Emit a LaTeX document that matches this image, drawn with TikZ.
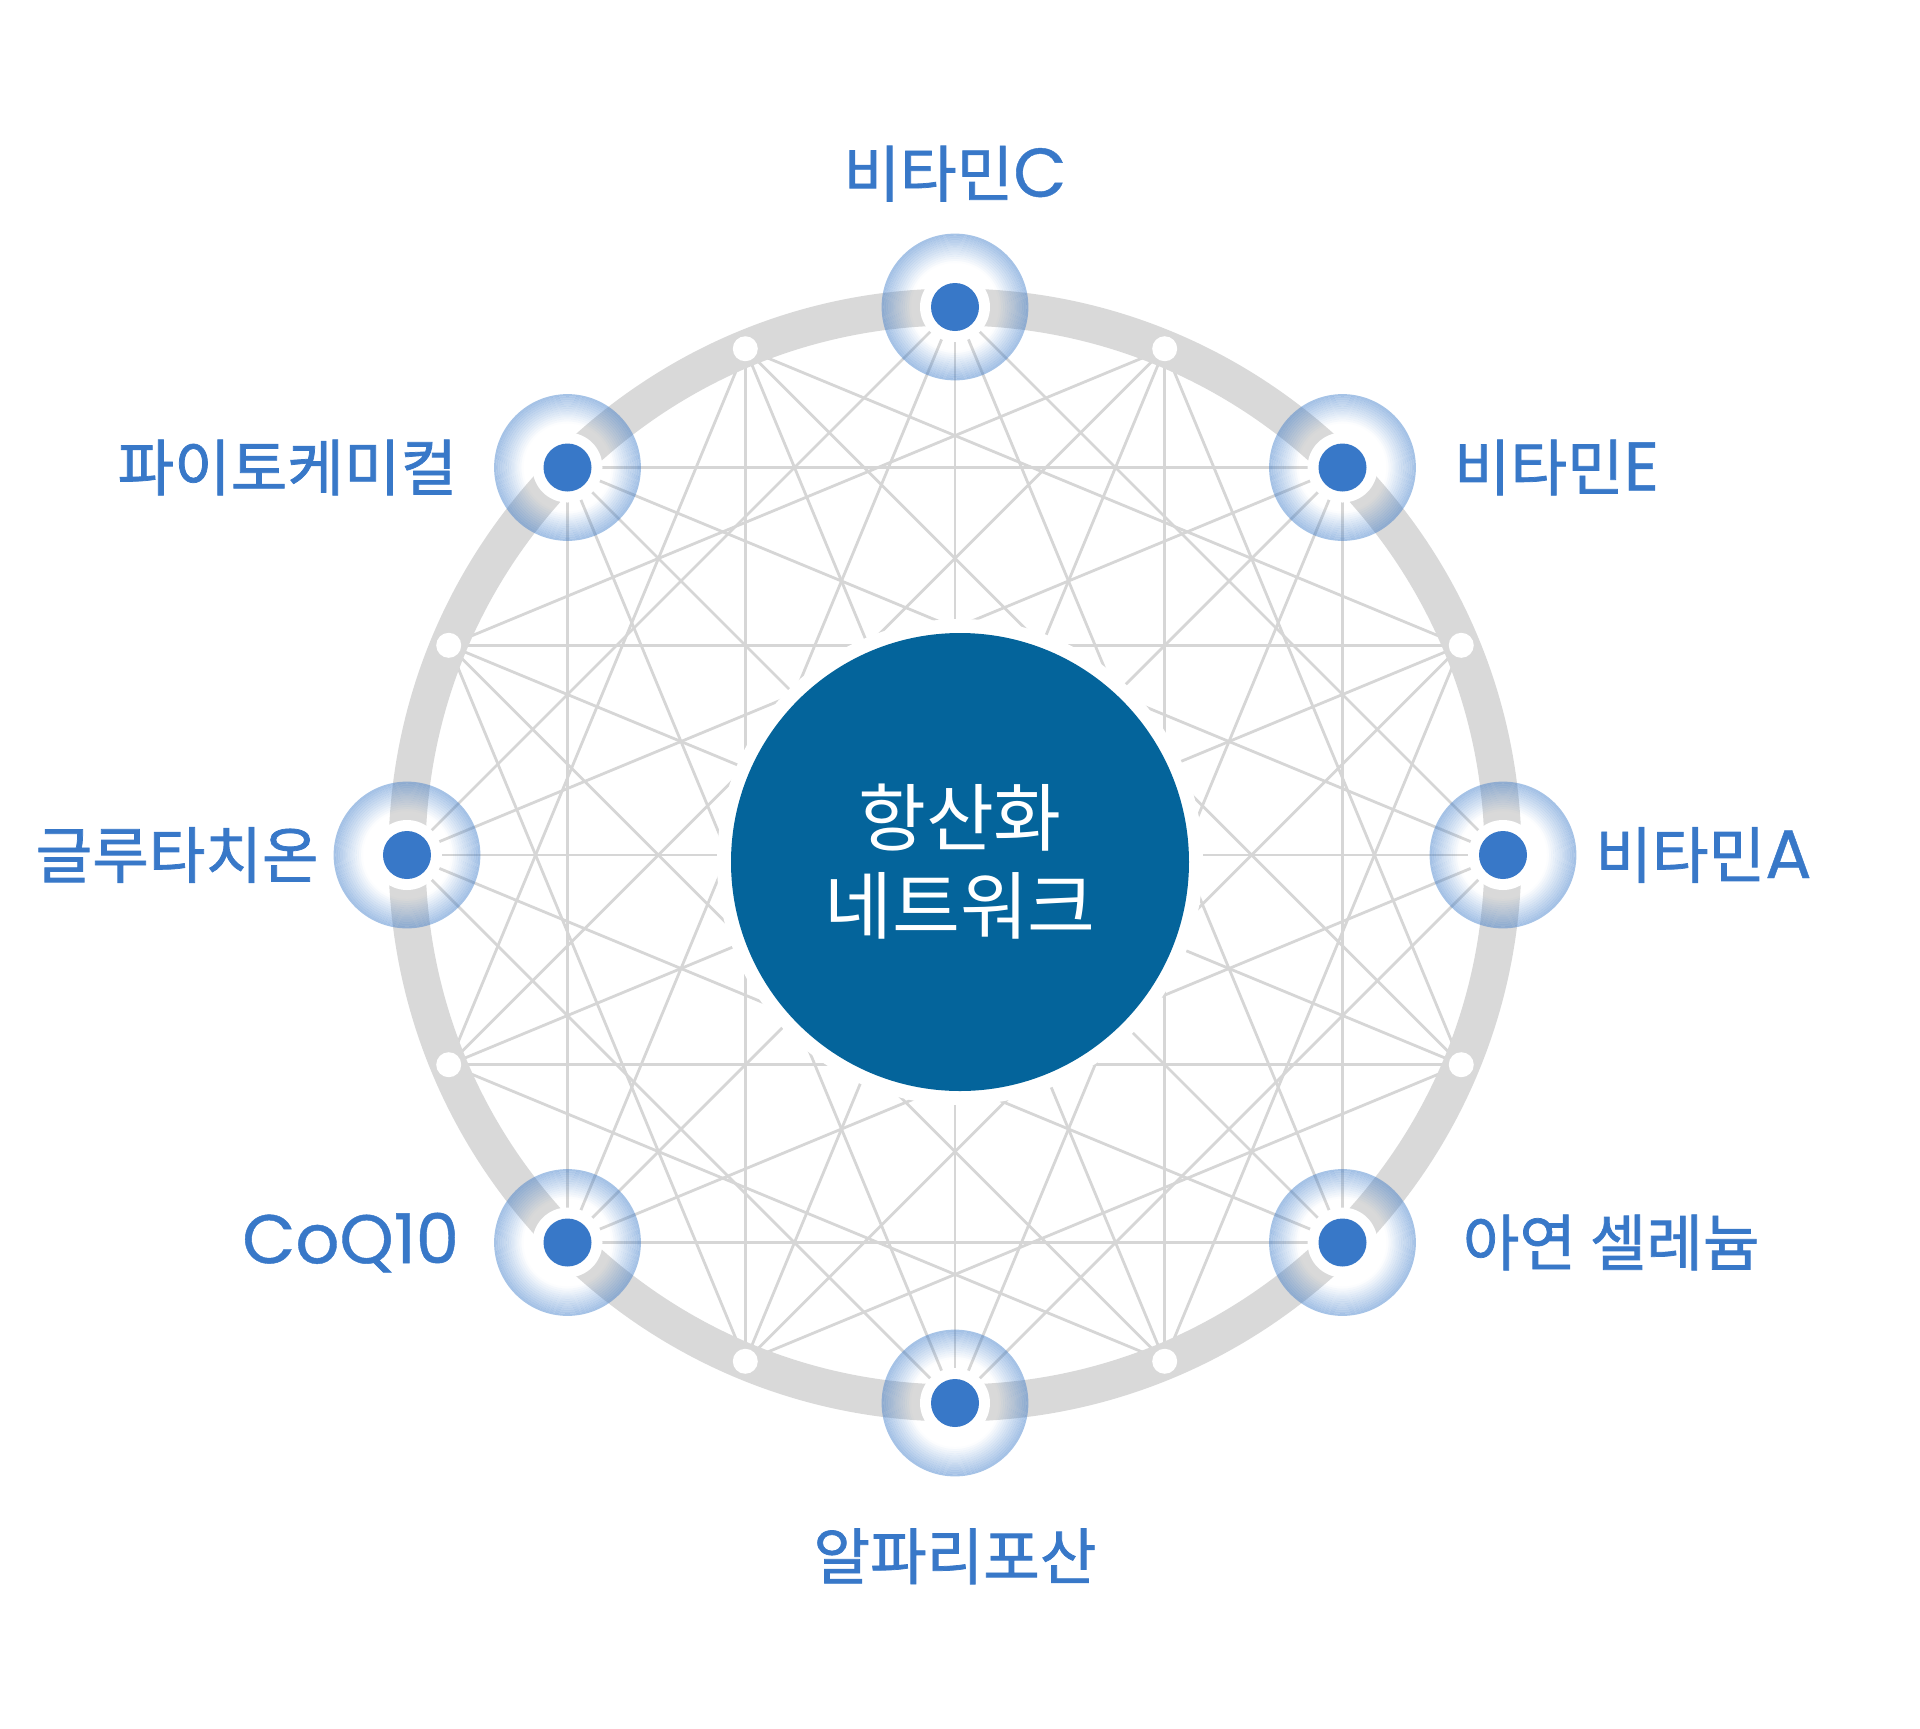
\documentclass[tikz,border=0pt]{standalone}
\usepackage{fontspec}
\setmainfont{Noto Sans CJK KR}
\newfontfamily\tagfont{Noto Sans CJK KR}[FakeBold=1.2]
\newfontfamily\latinfont{Poppins}[Scale=1.12, FakeBold=0.6]
\usepackage{xcolor}
\usepackage{tikz}
\usetikzlibrary{positioning}

\definecolor{netblue}{HTML}{3878C8}
\definecolor{coreblue}{HTML}{04649B}
\definecolor{ringgray}{HTML}{D9D9D9}
\definecolor{linegray}{HTML}{D6D6D6}

\tikzset{
    chord/.style={draw=linegray, line width=0.8pt},
    ring/.style={draw=ringgray, line width=0.37cm},
    halo/.style={circle, fill=white, minimum size=0.70cm, inner sep=0pt},
    agent/.style={circle, fill=netblue, minimum size=0.48cm, inner sep=0pt},
    gap/.style={circle, fill=white, minimum size=0.25cm, inner sep=0pt},
    core/.style={circle, fill=coreblue, minimum size=4.58cm, inner sep=0pt,
        text=white, align=center, font=\fontsize{21pt}{25pt}\selectfont},
    tag/.style={inner sep=0pt, text=netblue, font=\tagfont\fontsize{17.5pt}{21pt}\selectfont}
}

\begin{document}
\begin{tikzpicture}
    \useasboundingbox (-9.55,-8.73) rectangle (9.65,8.55);

    \foreach \i in {0,...,15}
        \coordinate (p\i) at (\i*22.5:5.48);

    \foreach \i in {0,...,15}{
        \pgfmathtruncatemacro\a{mod(\i+4,16)}
        \pgfmathtruncatemacro\b{mod(\i+6,16)}
        \draw[chord] (p\i) -- (p\a);
        \draw[chord] (p\i) -- (p\b);
    }
    \foreach \i in {0,...,7}{
        \pgfmathtruncatemacro\c{\i+8}
        \draw[chord] (p\i) -- (p\c);
    }

    \draw[ring] (0,0) circle (5.48);

    \fill[white] (0.05,-0.07) circle (2.43);
    \node[core] (net) at (0.05,-0.07) {항산화\\네트워크};

    \foreach \i in {1,3,...,15}
        \node[gap] (w\i) at (p\i) {};

    % soft halo: thin rings getting bluer outwards
    \foreach \i in {0,2,...,14}{
        \foreach \k in {0,...,13}{
            \pgfmathsetmacro\ri{0.44+0.021*\k}
            \pgfmathsetmacro\ro{\ri+0.021}
            \pgfmathsetmacro\op{0.033*(\k+0.5)}
            \fill[netblue, fill opacity=\op, even odd rule] (p\i) circle (\ri) circle (\ro);
        }
        \node[halo] (h\i) at (p\i) {};
    }

    \node[agent] (vitA)  at (p0)  {};
    \node[agent] (vitE)  at (p2)  {};
    \node[agent] (vitC)  at (p4)  {};
    \node[agent] (phyto) at (p6)  {};
    \node[agent] (gsh)   at (p8)  {};
    \node[agent] (coq)   at (p10) {};
    \node[agent] (ala)   at (p12) {};
    \node[agent] (znse)  at (p14) {};

    \node[tag, right=0.67 of vitA]  (tagA)  {비타민{\latinfont A}};
    \node[tag, right=0.86 of vitE]  (tagE)  {비타민{\latinfont E}};
    \node[tag, above=0.8 of vitC]   (tagC)  {비타민{\latinfont C}};
    \node[tag, left=0.85 of phyto]  (tagP)  {파이토케미컬};
    \node[tag, left=0.63 of gsh]    (tagG)  {글루타치온};
    \node[tag, left=0.83 of coq]    (tagQ)  {\latinfont CoQ10};
    \node[tag, below=1.0 of ala]    (tagL)  {알파리포산};
    \node[tag, right=0.95 of znse]  (tagZ)  {아연 셀레늄};
\end{tikzpicture}
\end{document}
